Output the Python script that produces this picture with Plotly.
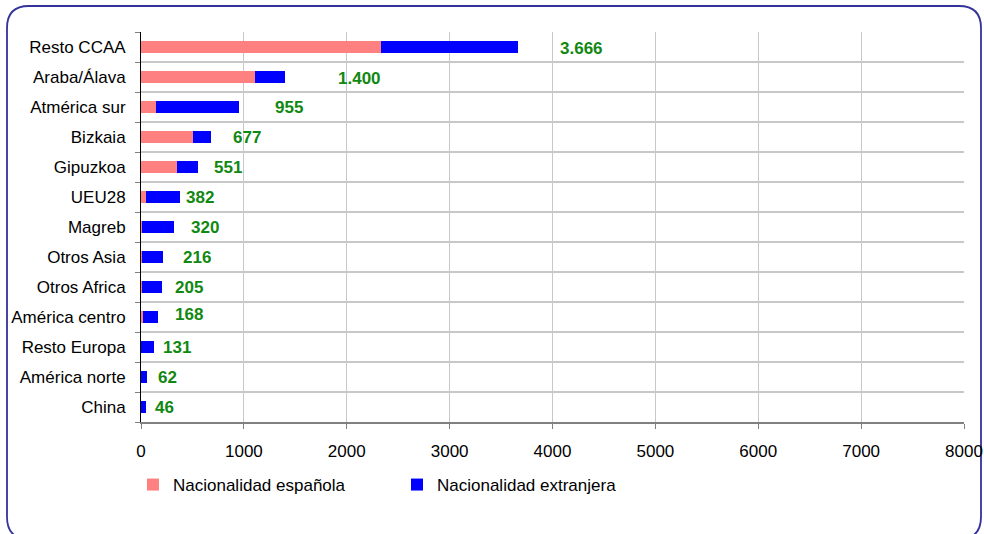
import plotly.graph_objects as go

categories = [
    "Resto CCAA", "Araba/Álava", "Atmérica sur", "Bizkaia", "Gipuzkoa", "UEU28",
    "Magreb", "Otros Asia", "Otros Africa", "América centro", "Resto Europa",
    "América norte", "China",
]
espanola = [2330, 1105, 148, 508, 350, 52, 8, 8, 8, 22, 4, 4, 4]
totales = [3666, 1400, 955, 677, 551, 382, 320, 216, 205, 168, 131, 62, 46]
extranjera = [t - e for t, e in zip(totales, espanola)]
etiquetas = ["3.666", "1.400", "955", "677", "551", "382", "320", "216", "205", "168", "131", "62", "46"]

# label offsets in px (as placed in the original)
label_dx = [40, 51, 34, 20, 14, 4, 15, 18, 11, 15, 7, 9, 7]
label_dy = [-1, -1, 0, 0, 0, 0, 0, 0, 0, 3, 0, 0, 0]

FONT = "Liberation Sans, Arial, sans-serif"
W, H = 984, 534
L, R, T, B = 141, 20, 32, 112
PW, PH = W - L - R, H - T - B


def px(x, y):
    return (x - L) / PW, (H - B - y) / PH


def rounded_rect(x0, y0, x1, y1, r):
    def p(x, y):
        a, b = px(x, y)
        return f"{a:.5f},{b:.5f}"
    return (
        f"M {p(x0 + r, y0)} L {p(x1 - r, y0)} Q {p(x1, y0)} {p(x1, y0 + r)} "
        f"L {p(x1, y1 - r)} Q {p(x1, y1)} {p(x1 - r, y1)} "
        f"L {p(x0 + r, y1)} Q {p(x0, y1)} {p(x0, y1 - r)} "
        f"L {p(x0, y0 + r)} Q {p(x0, y0)} {p(x0 + r, y0)} Z"
    )


fig = go.Figure()
fig.add_trace(go.Bar(y=categories, x=espanola, orientation="h", name="Nacionalidad española",
                     marker=dict(color="#FF8080", line=dict(width=0)), width=0.42))
fig.add_trace(go.Bar(y=categories, x=extranjera, orientation="h", name="Nacionalidad extranjera",
                     marker=dict(color="#0000FF", line=dict(width=0)), width=0.42))
# invisible trace so the boundary grid axis gets drawn
fig.add_trace(go.Scatter(x=[None], y=[None], yaxis="y2", showlegend=False, hoverinfo="skip"))

for cat, tot, lab, dx, dy in zip(categories, totales, etiquetas, label_dx, label_dy):
    fig.add_annotation(x=tot, y=cat, text=f"<b>{lab}</b>", showarrow=False, xanchor="left",
                       xshift=dx, yshift=dy,
                       font=dict(family=FONT, size=17, color="#118811"))

# rounded frame around the whole chart (bottom edge falls just below the window)
fig.add_shape(type="path", xref="paper", yref="paper", path=rounded_rect(7, 6, 981, 539, 22),
              line=dict(color="#333399", width=1.8), fillcolor="rgba(0,0,0,0)", layer="below")

fig.update_layout(
    width=W, height=H,
    margin=dict(l=L, r=R, t=T, b=B, autoexpand=False),
    barmode="stack",
    paper_bgcolor="white",
    plot_bgcolor="white",
    font=dict(family=FONT, size=17, color="#000000"),
    xaxis=dict(range=[0, 8000], dtick=1000, showgrid=True, gridcolor="#C8C8C8", gridwidth=1,
               zeroline=False, showline=True, linecolor="#808080", linewidth=1.5,
               ticks="outside", ticklen=5, tickcolor="#808080", ticklabelstandoff=8,
               tickfont=dict(size=17)),
    yaxis=dict(categoryorder="array", categoryarray=categories, autorange="reversed",
               showgrid=False, showline=True, linecolor="#000000", linewidth=1,
               ticks="", ticklabelstandoff=11, tickfont=dict(size=17)),
    yaxis2=dict(overlaying="y", side="left", range=[12.5, -0.5], tick0=0.5, dtick=1,
                showgrid=True, gridcolor="#C8C8C8", gridwidth=1.5, showticklabels=False,
                ticks="outside", ticklen=5, tickcolor="#808080", zeroline=False),
    legend=dict(orientation="h", x=px(133, 0)[0], y=px(0, 467)[1], xanchor="left", yanchor="top",
                font=dict(size=17), itemwidth=30, entrywidth=219, traceorder="normal"),
    bargap=0.5,
)

# drop the browser's default body margin so the figure fills the window
fig.write_html("out.html", config={"displayModeBar": False},
               post_script="document.body.style.margin='0px';")
